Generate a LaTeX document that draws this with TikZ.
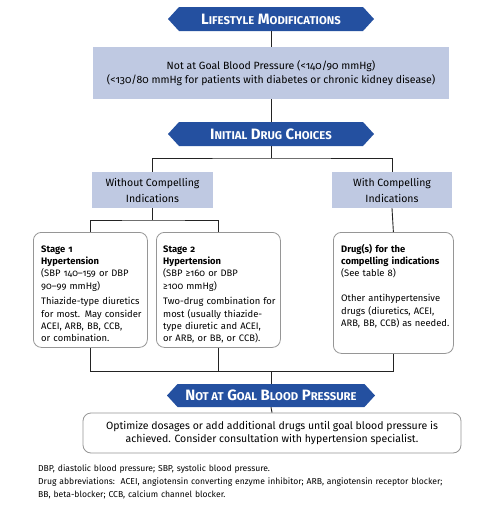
\documentclass[tikz,border=0pt]{standalone}
\usepackage{fontspec}
\setmainfont{Fira Sans}[Numbers=OldStyle]
\usetikzlibrary{shapes.symbols}
\definecolor{bannerblue}{RGB}{36,80,160}
\definecolor{boxblue}{RGB}{191,201,226}
\definecolor{edgegray}{RGB}{150,150,150}
\definecolor{linegray}{RGB}{35,35,35}
\newcommand\bsc[2]{#1{\fontsize{11.3}{12}\selectfont #2}}
\tikzset{
  banner/.style={signal, signal to=west and east, signal pointer angle=95,
    fill=bannerblue, text=white, minimum height=24pt, inner sep=0pt,
    font=\bfseries\fontsize{15}{16}\selectfont},
  bluebox/.style={fill=boxblue, inner sep=0pt, align=center,
    font=\fontsize{10.5}{14}\selectfont},
  roundbox/.style={draw=edgegray, line width=0.8pt, rounded corners=8pt,
    fill=white, inner sep=0pt},
  boxtext/.style={anchor=base west, align=left, inner sep=0pt, text width=135pt,
    font=\fontsize{9.4}{12.4}\selectfont},
  conn/.style={draw=linegray, line width=0.9pt},
}
\begin{document}
\begin{tikzpicture}[x=1pt,y=-1pt]
\useasboundingbox[fill=white] (0,0) rectangle (497,507);
\node[banner, minimum width=206pt] (b1) at (271,19) {\bsc{L}{IFESTYLE} \bsc{M}{ODIFICATIONS}};
\node[bluebox, minimum width=356pt, minimum height=52pt] (goal) at (271,73)
  {Not at Goal Blood Pressure (<140/90 mmHg)\\(<130/80 mmHg for patients with diabetes or chronic kidney disease)};
\node[banner, minimum width=206pt] (b2) at (271,134) {\bsc{I}{NITIAL} \bsc{D}{RUG} \bsc{C}{HOICES}};
\node[bluebox, minimum width=121pt, minimum height=36pt, font=\fontsize{10.5}{16}\selectfont] (wo) at (152.5,190) {Without Compelling\\Indications};
\node[bluebox, minimum width=120pt, minimum height=36pt, font=\fontsize{10.5}{16}\selectfont] (wi) at (392,190) {With Compelling\\Indications};
\node[roundbox, minimum width=114pt, minimum height=115pt, anchor=north west] (s1) at (33,232) {};
\node[roundbox, minimum width=124pt, minimum height=115pt, anchor=north west] (s2) at (156,232) {};
\node[roundbox, minimum width=120pt, minimum height=121pt, anchor=north west] (dr) at (333,232) {};
\node[boxtext] (s1t) at (41,252)
  {\textbf{Stage 1}\\\textbf{Hypertension}\\(SBP 140–159 or DBP\\90–99 mmHg)\\[3pt]Thiazide-type diuretics\\for most. May consider\\ACEI, ARB, BB, CCB,\\or combination.};
\node[boxtext] (s2t) at (163,252)
  {\textbf{Stage 2}\\\textbf{Hypertension}\\(SBP ≥160 or DBP\\≥100 mmHg)\\[3pt]Two-drug combination for\\most (usually thiazide-\\type diuretic and ACEI,\\or ARB, or BB, or CCB).};
\node[boxtext] (drt) at (341,252)
  {\textbf{Drug(s) for the}\\\textbf{compelling indications}\\(See table 8)\\[12.4pt]Other antihypertensive\\drugs (diuretics, ACEI,\\ARB, BB, CCB) as needed.};
\node[banner, minimum width=208pt, minimum height=23pt] (b3) at (271,395.5) {\bsc{N}{OT AT} \bsc{G}{OAL} \bsc{B}{LOOD} \bsc{P}{RESSURE}};
\node[roundbox, minimum width=378pt, minimum height=40pt, align=center,
  font=\fontsize{10.5}{13.5}\selectfont] (fin) at (272,433)
  {Optimize dosages or add additional drugs until goal blood pressure is\\achieved. Consider consultation with hypertension specialist.};
\node[anchor=base west, align=left, inner sep=0pt, text width=455pt,
  font=\fontsize{8.6}{13}\selectfont] (foot) at (38,471)
  {DBP, diastolic blood pressure; SBP, systolic blood pressure.\\
   Drug abbreviations:\ \ ACEI, angiotensin converting enzyme inhibitor; ARB, angiotensin receptor blocker;\\
   BB, beta-blocker; CCB, calcium channel blocker.};
\coordinate (j1) at (271,158);
\coordinate (j2) at (152.5,220);
\coordinate (j3) at (271,371);
\draw[conn] (b1.south) -- (goal.north);
\draw[conn] (goal.south) -- (b2.north);
\draw[conn] (b2.south) -- (j1);
\draw[conn] (wo.north) |- (j1) -| (wi.north);
\draw[conn] (wo.south) -- (j2);
\draw[conn] (s1.north) |- (j2) -| (s2.north);
\draw[conn] (wi.south) -- (dr.north);
\draw[conn] (s1.south) |- (j3);
\draw[conn] (s2.south) |- (j3);
\draw[conn] (dr.south) |- (j3);
\draw[conn] (j3) -- (b3.north);
\draw[conn] (b3.south) -- (fin.north);
\end{tikzpicture}
\end{document}
